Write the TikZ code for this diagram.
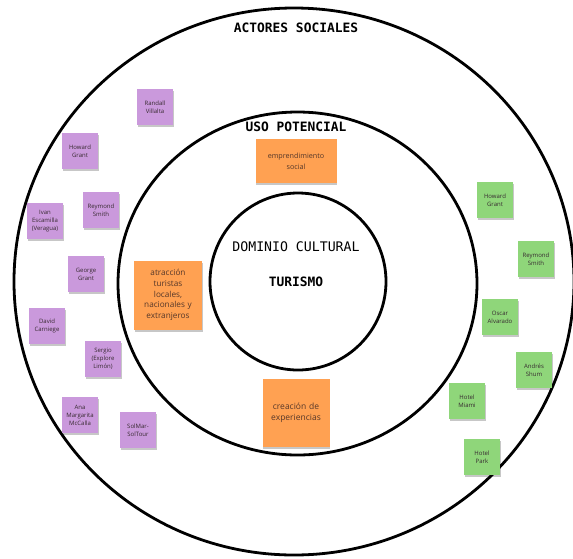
\documentclass[tikz,border=0pt]{standalone}
\usepackage{fontspec}
\setmainfont{Open Sans}
\newfontfamily\monofont{DejaVu Sans Mono}
\usepackage{tikz}
\usetikzlibrary{shadows}

\definecolor{notepurple}{RGB}{202,153,220}
\definecolor{notegreen}{RGB}{143,214,122}
\definecolor{noteorange}{RGB}{255,161,82}
\definecolor{notetext}{RGB}{55,42,48}

\begin{document}
\begin{tikzpicture}[
    x=1pt, y=-1pt,          % pixel-like units, y downwards
    ring/.style={draw, line width=2.8pt},
    title/.style={font=\monofont\bfseries\fontsize{12.9}{14}\selectfont},
    note/.style={rectangle, minimum width=36pt, minimum height=36pt, text width=34pt,
        align=center, inner sep=0pt, text=notetext,
        font=\fontsize{6}{8}\selectfont,
        drop shadow={shadow xshift=0.6pt, shadow yshift=-2pt, fill=black, opacity=0.22}},
    actor/.style={note, fill=notepurple},
    agent/.style={note, fill=notegreen},
    usage/.style={note, fill=noteorange, text=notetext!85!orange,
        font=\fontsize{8.2}{10.8}\selectfont}]
    \useasboundingbox (0,0) rectangle (573,558);

    % Rings
    \draw[ring] (294,281.5) ellipse (280 and 273.5);
    \draw[ring] (297.5,283.5) ellipse (179.5 and 171.5);
    \draw[ring] (298,281.5) ellipse (88 and 88.5);

    % Titles
    \node[title] (actores) at (296,28) {ACTORES SOCIALES};
    \node[title] (uso) at (296,127) {USO POTENCIAL};
    \node[font=\monofont\fontsize{13.2}{15}\selectfont] (dominio) at (296,247) {DOMINIO CULTURAL};
    \node[title] (turismo) at (296,282) {TURISMO};

    % Uso potencial
    \node[usage, minimum width=81pt, minimum height=44pt, text width=78pt,
          font=\fontsize{7.2}{10.7}\selectfont] (emprende) at (296,161) {emprendimiento\\social};
    \node[usage, minimum width=68pt, minimum height=69pt, text width=66pt] (atraccion) at (168,295)
        {atracción\\turistas\\locales,\\nacionales y\\extranjeros};
    \node[usage, minimum width=67pt, minimum height=68pt, text width=65pt,
          font=\fontsize{8.5}{11.3}\selectfont] (creacion) at (296,413) {creación de\\experiencias};

    % Actores (purple)
    \node[actor] (randall) at (155,107) {Randall\\Villalta};
    \node[actor] (howardL) at (80,151) {Howard\\Grant};
    \node[actor] (reymondL) at (101,210) {Reymond\\Smith};
    \node[actor] (ivan) at (45,221) {Ivan\\Escamilla\\(Veragua)};
    \node[actor] (george) at (86,274) {George\\Grant};
    \node[actor] (david) at (47,326) {David\\Carniege};
    \node[actor] (sergio) at (103,359) {Sergio\\(Explore\\Limón)};
    \node[actor] (ana) at (80,415) {Ana\\Margarita\\McCalla};
    \node[actor] (solmar) at (138,430) {SolMar-\\SolTour};

    % Actores (green)
    \node[agent] (howardR) at (495,200) {Howard\\Grant};
    \node[agent] (reymondR) at (536,259) {Reymond\\Smith};
    \node[agent] (oscar) at (500,317) {Oscar\\Alvarado};
    \node[agent] (andres) at (534,370) {Andrés\\Shum};
    \node[agent] (miami) at (467,401) {Hotel\\Miami};
    \node[agent] (park) at (482,457) {Hotel\\Park};
\end{tikzpicture}
\end{document}
